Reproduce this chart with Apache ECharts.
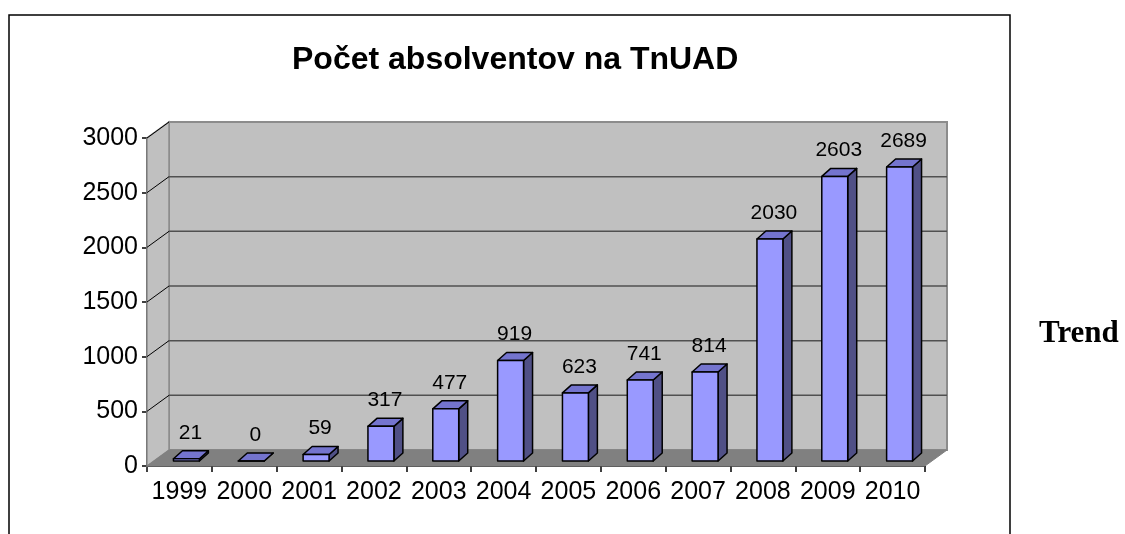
<!DOCTYPE html>
<html>
<head>
<meta charset="utf-8">
<script src="https://cdn.jsdelivr.net/npm/echarts@6/dist/echarts.min.js"></script>
<style>html,body{margin:0;padding:0;background:#fff;}#c{width:1125px;height:534px;}</style>
</head>
<body>
<div id="c"></div>
<script>
var titleText = 'Počet absolventov na TnUAD';
var sideText = 'Trend';
var categories = ['1999','2000','2001','2002','2003','2004','2005','2006','2007','2008','2009','2010'];
var values = [21, 0, 59, 317, 477, 919, 623, 741, 814, 2030, 2603, 2689];
var yTicks = [0, 500, 1000, 1500, 2000, 2500, 3000];

var FONT = '"Liberation Sans", Arial, sans-serif';
var DEPTH = [22, -16];

var chart = echarts.init(document.getElementById('c'), null, {renderer: 'canvas'});

function renderWalls(params, api) {
  var cs = params.coordSys;
  var x = cs.x, y = cs.y, w = cs.width, h = cs.height;
  var dx = DEPTH[0], dy = DEPTH[1];
  var children = [];
  children.push({type: 'rect', shape: {x: x + dx, y: y + dy, width: w, height: h},
    style: {fill: '#C0C0C0', stroke: '#8C8C8C', lineWidth: 2}});
  children.push({type: 'polygon', shape: {points: [[x, y + h], [x, y], [x + dx, y + dy], [x + dx, y + h + dy]]},
    style: {fill: '#C0C0C0', stroke: '#8C8C8C', lineWidth: 1.5}});
  children.push({type: 'polygon', shape: {points: [[x, y + h], [x + w, y + h], [x + w + dx, y + h + dy], [x + dx, y + h + dy]]},
    style: {fill: '#808080', stroke: '#808080', lineWidth: 1}});
  for (var i = 1; i < yTicks.length; i++) {
    var py = api.coord([0, yTicks[i]])[1];
    if (i < yTicks.length - 1) {
      children.push({type: 'line', shape: {x1: x + dx, y1: py + dy, x2: x + w + dx, y2: py + dy},
        style: {stroke: '#505050', lineWidth: 1.5}});
    }
    children.push({type: 'line', shape: {x1: x, y1: py, x2: x + dx, y2: py + dy},
      style: {stroke: '#000', lineWidth: 1}});
  }
  return {type: 'group', children: children};
}

function renderBar(params, api) {
  var idx = api.value(0);
  var val = api.value(1);
  var top = api.coord([idx, val]);
  var base = api.coord([idx, 0]);
  var bw = api.size([1, 0])[0];
  var fw = bw * 0.4;
  var cx = top[0] + 7;
  var L = cx - fw / 2, R = cx + fw / 2;
  var T = top[1] - 5, B = base[1] - 5;
  var sx = 9, sy = -8;
  var st = {stroke: '#000', lineWidth: 1.5, lineJoin: 'round'};
  return {type: 'group', children: [
    {type: 'polygon', shape: {points: [[R, T], [R + sx, T + sy], [R + sx, B + sy], [R, B]]},
      style: Object.assign({fill: '#505086'}, st)},
    {type: 'polygon', shape: {points: [[L, T], [L + sx, T + sy], [R + sx, T + sy], [R, T]]},
      style: Object.assign({fill: '#7474CE'}, st)},
    {type: 'rect', shape: {x: L, y: T, width: fw, height: B - T},
      style: Object.assign({fill: '#9999FF'}, st)},
    {type: 'text', x: cx + 4, y: top[1] - 31,
      style: {text: String(val), font: '21px ' + FONT, fill: '#000', align: 'center', verticalAlign: 'middle'}}
  ]};
}

var barData = values.map(function (v, i) { return [i, v]; });

chart.setOption({
  animation: false,
  backgroundColor: '#fff',
  title: {
    text: titleText, left: 287, top: 39,
    textStyle: {fontFamily: FONT, fontSize: 32, fontWeight: 'bold', color: '#000'}
  },
  grid: {left: 147, top: 138, width: 778, height: 328, containLabel: false},
  xAxis: {
    type: 'category', data: categories,
    axisLine: {show: true, lineStyle: {color: '#000', width: 1.5}},
    axisTick: {show: true, alignWithLabel: false, length: 6, lineStyle: {color: '#000', width: 1.5}},
    axisLabel: {color: '#000', fontFamily: FONT, fontSize: 25, margin: 14, interval: 0},
    splitLine: {show: false}
  },
  yAxis: {
    type: 'value', min: 0, max: 3000, interval: 500,
    axisLine: {show: true, lineStyle: {color: '#000', width: 1.5}},
    axisTick: {show: true, length: 5, lineStyle: {color: '#000', width: 1.5}},
    axisLabel: {color: '#000', fontFamily: FONT, fontSize: 25, margin: 9,
      formatter: function (v) { return String(v); }},
    splitLine: {show: false}
  },
  graphic: [
    {type: 'rect', shape: {x: 9, y: 15, width: 1001, height: 560},
      style: {fill: 'none', stroke: '#000', lineWidth: 1.5}, z: 100},
    {type: 'text', x: 1039, y: 334,
      style: {text: sideText, font: 'bold 31px "Liberation Serif", "Times New Roman", serif', fill: '#000', verticalAlign: 'middle'}}
  ],
  series: [
    {type: 'custom', renderItem: renderWalls, data: [[0, 0]], z: 1, silent: true, clip: false},
    {type: 'custom', renderItem: renderBar, data: barData, z: 2, silent: true, clip: false,
      encode: {x: 0, y: 1}}
  ]
});
</script>
</body>
</html>
